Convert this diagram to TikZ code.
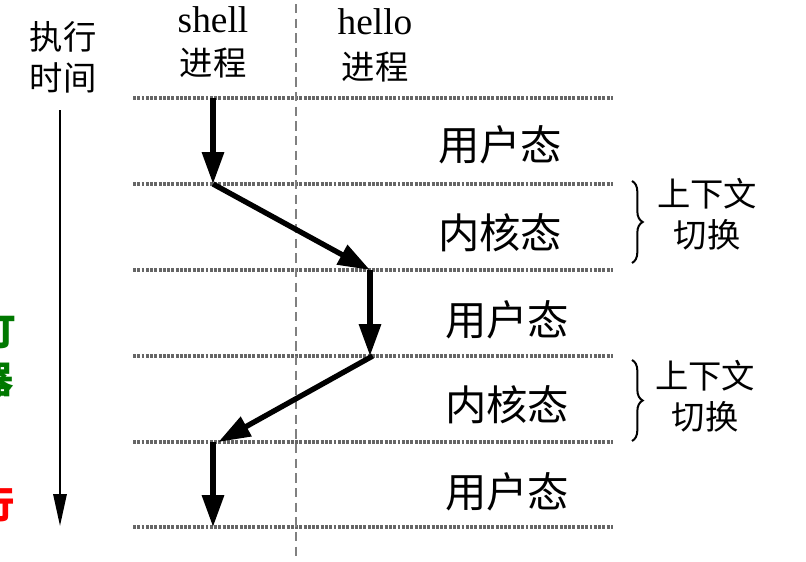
\documentclass[tikz,border=0pt]{standalone}
\usepackage{fontspec}
\setmainfont{Liberation Serif}
\newfontfamily\cjk{Noto Sans CJK SC}
\usetikzlibrary{arrows.meta, positioning, decorations.pathreplacing}

\begin{document}
\begin{tikzpicture}[
  x=0.75pt, y=-0.75pt,
  nivel/.style={draw=black!60, line width=2.8pt, dash pattern=on 2.2pt off 1pt},
  guia/.style={draw=black!50, line width=1.4pt, dash pattern=on 7pt off 4pt},
  flecha/.style={-{Triangle[length=24pt, width=16pt]}, line width=4pt, line join=round},
  tiempo/.style={-{Triangle[length=24pt, width=10pt]}, line width=1.6pt},
  estado/.style={font=\cjk\fontsize{31}{33}\selectfont, inner sep=0pt},
  cab/.style={font=\cjk\fontsize{25}{31}\selectfont, inner sep=0pt, align=center},
  proc/.style={font=\fontsize{28}{30}\selectfont, inner sep=0pt},
  llave/.style={decorate, decoration={brace, amplitude=8pt}, line width=1.5pt},
  corte/.style={font=\cjk\bfseries\fontsize{28}{30}\selectfont, inner sep=0pt}
]
\useasboundingbox (0,0) rectangle (806,561);

%% niveles horizontales
\foreach \i/\yy in {0/98, 1/184, 2/270, 3/356, 4/442, 5/527} {
  \coordinate (L\i) at (133,\yy);
  \coordinate (R\i) at (613,\yy);
  \coordinate (s\i) at (213,\yy);
  \coordinate (h\i) at (370,\yy);
  \draw[nivel] (L\i) -- (R\i);
}

%% separador de procesos
\coordinate (sepA) at (296,4);
\coordinate (sepB) at (296,558);
\draw[guia] (sepA) -- (sepB);

%% eje de tiempo
\node[cab] (tit) at (63,57) {执行\\时间};
\coordinate (t0) at (60,110);
\coordinate (t1) at (60,526);
\draw[tiempo] (t0) -- (t1);

%% procesos
\node[proc] (shell) at (213,20) {shell};
\node[cab]  (shellP) at (213,63) {进程};
\node[proc] (hello) at (375,22) {hello};
\node[cab]  (helloP) at (375,67) {进程};

%% flujo de ejecución
\draw[flecha] (s0) -- (s1);
\draw[flecha] (s1) -- (h2);
\draw[flecha] (h2) -- (h3);
\draw[flecha] ([xshift=2pt]h3) -- ([xshift=4pt]s4);
\draw[flecha] (s4) -- (s5);

%% estados
\node[estado] (u1) at (500,145) {用户态};
\node[estado] (k1) at (500,233) {内核态};
\node[estado] (u2) at (507,320) {用户态};
\node[estado] (k2) at (507,405) {内核态};
\node[estado] (u3) at (507,492) {用户态};

%% cambios de contexto
\coordinate (b1a) at (632,181);
\coordinate (b1b) at (632,263);
\coordinate (b2a) at (632,360);
\coordinate (b2b) at (632,441);
\draw[llave] (b1a) -- (b1b);
\draw[llave] (b2a) -- (b2b);
\node[cab] (ctx1) at (707,214) {上下文\\切换};
\node[cab] (ctx2) at (705,396) {上下文\\切换};

%% textos cortados al margen (como en el original)
\node[corte, text={rgb,255:red,0;green,120;blue,0}] (cg1) at (-3,331) {打};
\node[corte, text={rgb,255:red,0;green,120;blue,0}] (cg2) at (-5,380) {器};
\node[corte, text=red] (cr1) at (-4,504) {行};

\end{tikzpicture}
\end{document}
